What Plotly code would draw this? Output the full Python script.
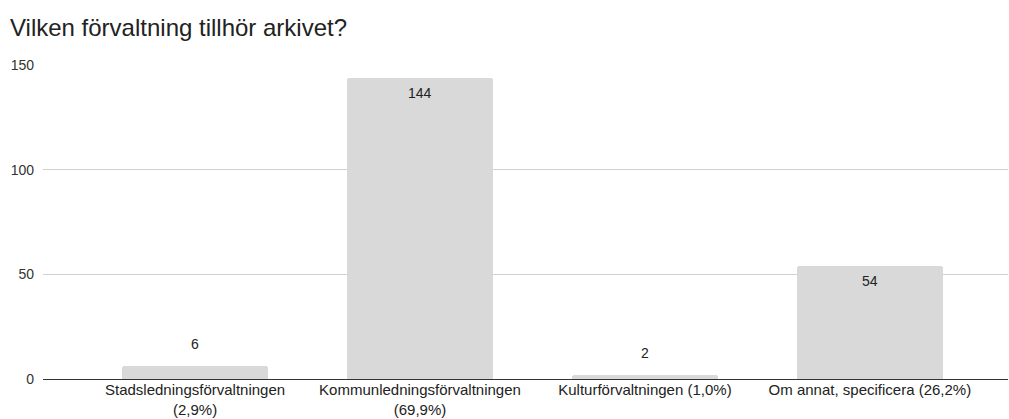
import plotly.graph_objects as go

categories = ["Stadsledningsförvaltningen<br>(2,9%)",
              "Kommunledningsförvaltningen<br>(69,9%)",
              "Kulturförvaltningen (1,0%)",
              "Om annat, specificera (26,2%)"]
values = [6, 144, 2, 54]
label_inside = [False, True, False, True]
y_ticks = [0, 50, 100, 150]
title = "Vilken förvaltning tillhör arkivet?"

FONT = "Liberation Sans, Arial"

fig = go.Figure()
fig.add_trace(go.Bar(
    x=list(range(len(categories))), y=values,
    marker=dict(color="#d9d9d9", line=dict(width=0), cornerradius=3),
    width=146/225, hoverinfo="skip",
))

for i, (v, ins) in enumerate(zip(values, label_inside)):
    fig.add_annotation(x=i, y=v, text=str(v), showarrow=False,
                       yshift=-15 if ins else 22,
                       font=dict(family=FONT, size=14, color="#222222"))

fig.update_layout(
    width=1009, height=419,
    margin=dict(l=43, r=1, t=65, b=40),
    paper_bgcolor="white", plot_bgcolor="white",
    title=dict(text=title, x=10/1009, xref="container", xanchor="left",
               y=1-19/419, yref="container", yanchor="top", pad=dict(t=0),
               font=dict(family=FONT, size=24, color="#222222")),
    showlegend=False,
    bargap=0,
    xaxis=dict(range=[-0.676, 3.614], tickmode="array",
               tickvals=list(range(len(categories))), ticktext=categories,
               showgrid=False, zeroline=False, showline=False, ticks="",
               tickfont=dict(family=FONT, size=15, color="#222222"),
               fixedrange=True),
    yaxis=dict(range=[0, 150], tickmode="array", tickvals=y_ticks,
               showgrid=True, gridcolor="#d0d0d0", gridwidth=1,
               zeroline=True, zerolinecolor="#333333", zerolinewidth=1,
               ticks="", ticklabelstandoff=8,
               tickfont=dict(family=FONT, size=14, color="#333333"),
               fixedrange=True),
)

fig.write_html("out.html")
